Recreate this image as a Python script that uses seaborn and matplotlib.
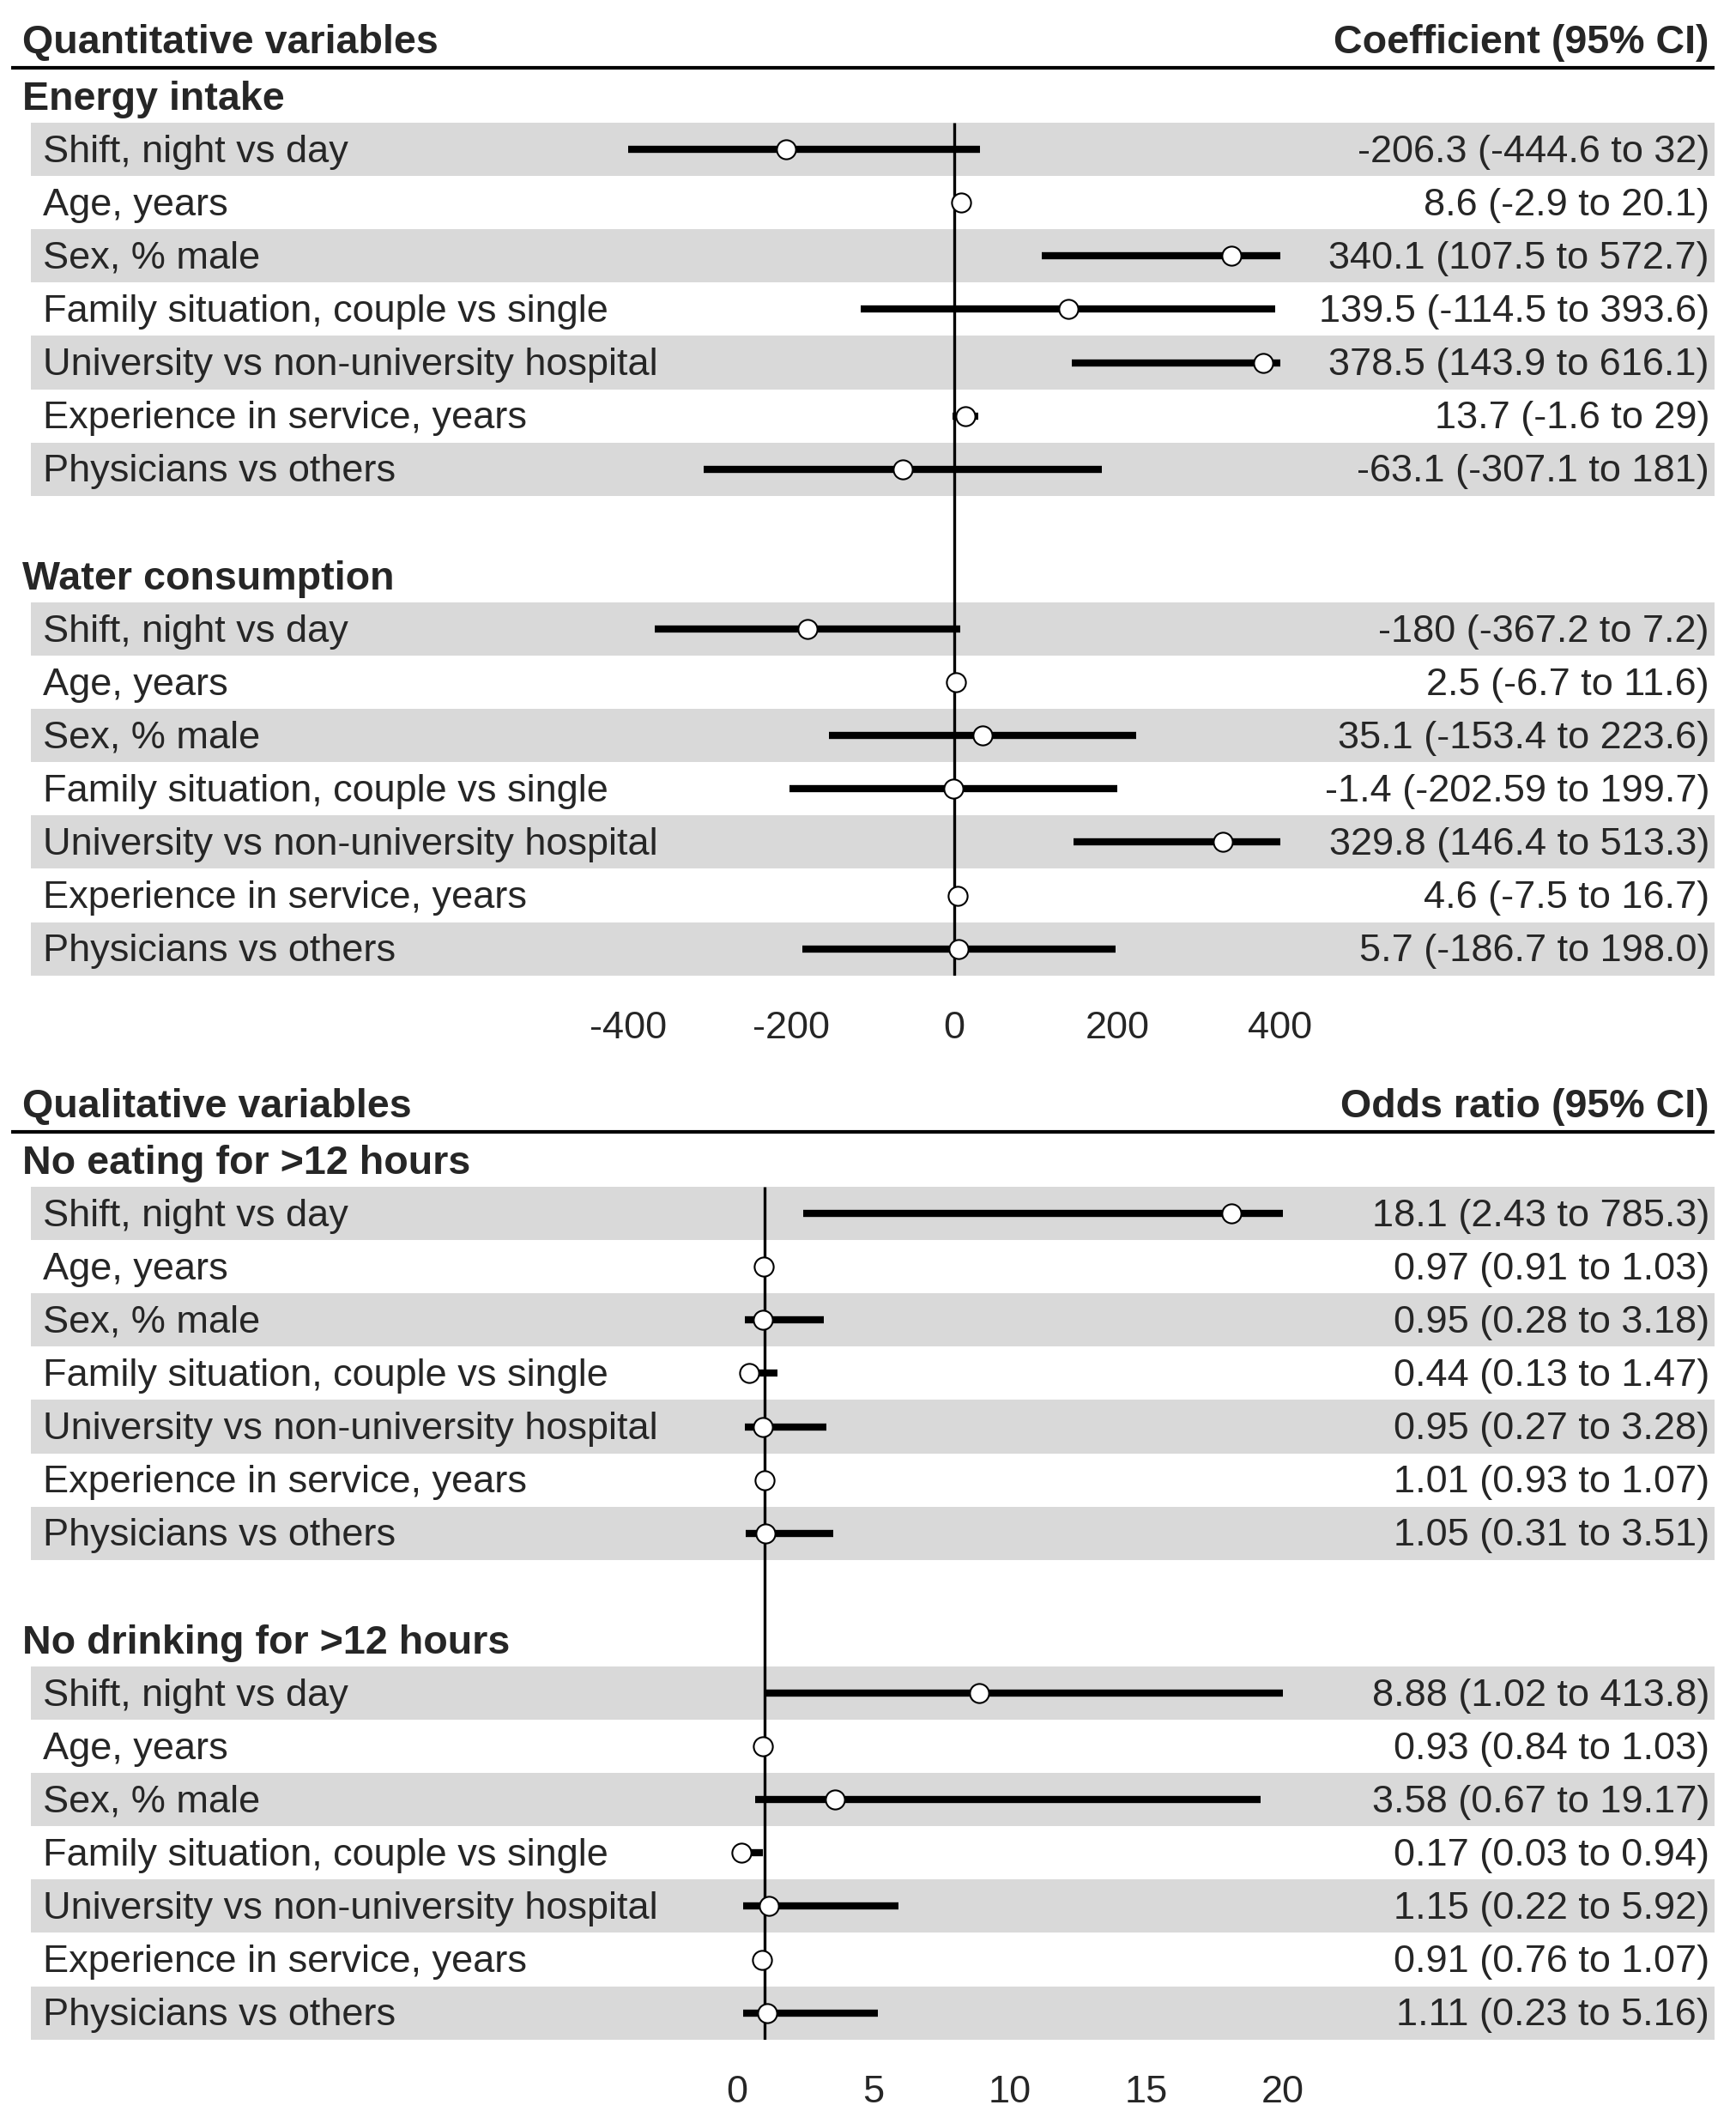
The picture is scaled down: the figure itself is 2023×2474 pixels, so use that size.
import numpy as np
import pandas as pd
import matplotlib
matplotlib.use("Agg")
import matplotlib.pyplot as plt
import matplotlib.transforms as mtransforms
import seaborn as sns

# ---------------- data ----------------
variables = [
    "Shift, night vs day",
    "Age, years",
    "Sex, % male",
    "Family situation, couple vs single",
    "University vs non-university hospital",
    "Experience in service, years",
    "Physicians vs others",
]

energy_est = [-206.3, 8.6, 340.1, 139.5, 378.5, 13.7, -63.1]
energy_lo = [-444.6, -2.9, 107.5, -114.5, 143.9, -1.6, -307.1]
energy_hi = [32, 20.1, 572.7, 393.6, 616.1, 29, 181]
energy_txt = ["-206.3 (-444.6 to 32)", "8.6 (-2.9 to 20.1)", "340.1 (107.5 to 572.7)",
              "139.5 (-114.5 to 393.6)", "378.5 (143.9 to 616.1)", "13.7 (-1.6 to 29)",
              "-63.1 (-307.1 to 181)"]

water_est = [-180, 2.5, 35.1, -1.4, 329.8, 4.6, 5.7]
water_lo = [-367.2, -6.7, -153.4, -202.59, 146.4, -7.5, -186.7]
water_hi = [7.2, 11.6, 223.6, 199.7, 513.3, 16.7, 198.0]
water_txt = ["-180 (-367.2 to 7.2)", "2.5 (-6.7 to 11.6)", "35.1 (-153.4 to 223.6)",
             "-1.4 (-202.59 to 199.7)", "329.8 (146.4 to 513.3)", "4.6 (-7.5 to 16.7)",
             "5.7 (-186.7 to 198.0)"]

eat_est = [18.1, 0.97, 0.95, 0.44, 0.95, 1.01, 1.05]
eat_lo = [2.43, 0.91, 0.28, 0.13, 0.27, 0.93, 0.31]
eat_hi = [785.3, 1.03, 3.18, 1.47, 3.28, 1.07, 3.51]
eat_txt = ["18.1 (2.43 to 785.3)", "0.97 (0.91 to 1.03)", "0.95 (0.28 to 3.18)",
           "0.44 (0.13 to 1.47)", "0.95 (0.27 to 3.28)", "1.01 (0.93 to 1.07)",
           "1.05 (0.31 to 3.51)"]

drink_est = [8.88, 0.93, 3.58, 0.17, 1.15, 0.91, 1.11]
drink_lo = [1.02, 0.84, 0.67, 0.03, 0.22, 0.76, 0.23]
drink_hi = [413.8, 1.03, 19.17, 0.94, 5.92, 1.07, 5.16]
drink_txt = ["8.88 (1.02 to 413.8)", "0.93 (0.84 to 1.03)", "3.58 (0.67 to 19.17)",
             "0.17 (0.03 to 0.94)", "1.15 (0.22 to 5.92)", "0.91 (0.76 to 1.07)",
             "1.11 (0.23 to 5.16)"]

top_ticks = [-400, -200, 0, 200, 400]
bottom_ticks = [0, 5, 10, 15, 20]

# ---------------- style ----------------
sns.set_style("white")
plt.rcParams["font.family"] = ["Liberation Sans", "DejaVu Sans"]

W, H = 2023, 2474
fig = plt.figure(figsize=(W / 100, H / 100), dpi=100)

ROW = 62.1          # px per row
X0, X1 = 36, 1998   # band extent in px
FS = 32.5
FSB = 33.6


def make_axes(top_px_r0):
    ytop = top_px_r0 - 1.6 * ROW
    ybot = top_px_r0 + 16.5 * ROW
    ax = fig.add_axes([X0 / W, 1 - ybot / H, (X1 - X0) / W, (ybot - ytop) / H])
    return ax


def panel(ax, title, coltitle, groups, xlim, ticks, ref, clip):
    rows = []
    for g, (gname, est, lo, hi, txt) in enumerate(groups):
        base = g * 9
        for i in range(7):
            rows.append(dict(group=gname, var=variables[i], r=base + 1 + i,
                             est=est[i], lo=lo[i], hi=hi[i], txt=txt[i], band=(i % 2 == 0)))
    df = pd.DataFrame(rows)

    ax.set_xlim(*xlim)
    ax.set_ylim(16.5, -1.6)

    for _, row in df[df.band].iterrows():
        ax.axhspan(row.r - 0.5, row.r + 0.5, color="#d9d9d9", lw=0, zorder=0)

    ax.vlines(ref, 0.5, 16.63, color="black", lw=2.4, zorder=2)

    ax.hlines(df.r, np.clip(df.lo, *clip), np.clip(df.hi, *clip), color="black",
              lw=6, zorder=3, capstyle="butt")

    sns.scatterplot(data=df, x="est", y="r", ax=ax, s=256, color="white",
                    edgecolor="black", linewidth=1.5, zorder=4, legend=False)

    tr = mtransforms.blended_transform_factory(ax.transAxes, ax.transData)
    xl = (26 - X0) / (X1 - X0)
    xv = (50 - X0) / (X1 - X0)
    xr = (1992 - X0) / (X1 - X0)

    ax.text(xl, -1.0, title, transform=tr, fontsize=FSB, fontweight="bold",
            ha="left", va="center")
    ax.text(xr, -1.0, coltitle, transform=tr, fontsize=FSB, fontweight="bold",
            ha="right", va="center")
    ax.plot([(13 - X0) / (X1 - X0), 1.0], [-0.53, -0.53], transform=tr,
            color="black", lw=3, clip_on=False, solid_capstyle="butt")

    for g, (gname, *_rest) in enumerate(groups):
        ax.text(xl, g * 9 + 0.06, gname, transform=tr, fontsize=FSB, fontweight="bold",
                ha="left", va="center")
    for _, row in df.iterrows():
        ax.text(xv, row.r + 0.05, row["var"], transform=tr, fontsize=FS,
                ha="left", va="center")
        ax.text(xr, row.r + 0.05, row.txt, transform=tr, fontsize=FS,
                ha="right", va="center")

    ax.set_xticks(ticks)
    ax.set_xticklabels([str(t) for t in ticks])
    ax.set_yticks([])
    ax.tick_params(axis="x", length=0, pad=30, labelsize=FS)
    ax.set_xlabel("")
    ax.set_ylabel("")
    for s in ax.spines.values():
        s.set_visible(False)
    ax.set_facecolor("none")


# top panel: 0 at 1112 px, 0.95 px/unit
sc_top = 0.95
z_top = 1112
ax1 = make_axes(112)
panel(ax1, "Quantitative variables", "Coefficient (95% CI)",
      [("Energy intake", energy_est, energy_lo, energy_hi, energy_txt),
       ("Water consumption", water_est, water_lo, water_hi, water_txt)],
      ((X0 - z_top) / sc_top, (X1 - z_top) / sc_top), top_ticks, 0, (-400, 400))

# bottom panel: 0 at 859 px, 31.8 px/unit
sc_bot = 31.8
z_bot = 859
ax2 = make_axes(112 + 1240)
panel(ax2, "Qualitative variables", "Odds ratio (95% CI)",
      [("No eating for >12 hours", eat_est, eat_lo, eat_hi, eat_txt),
       ("No drinking for >12 hours", drink_est, drink_lo, drink_hi, drink_txt)],
      ((X0 - z_bot) / sc_bot, (X1 - z_bot) / sc_bot), bottom_ticks, 1, (0, 20))

fig.savefig("out.png", dpi=100, facecolor="white")
